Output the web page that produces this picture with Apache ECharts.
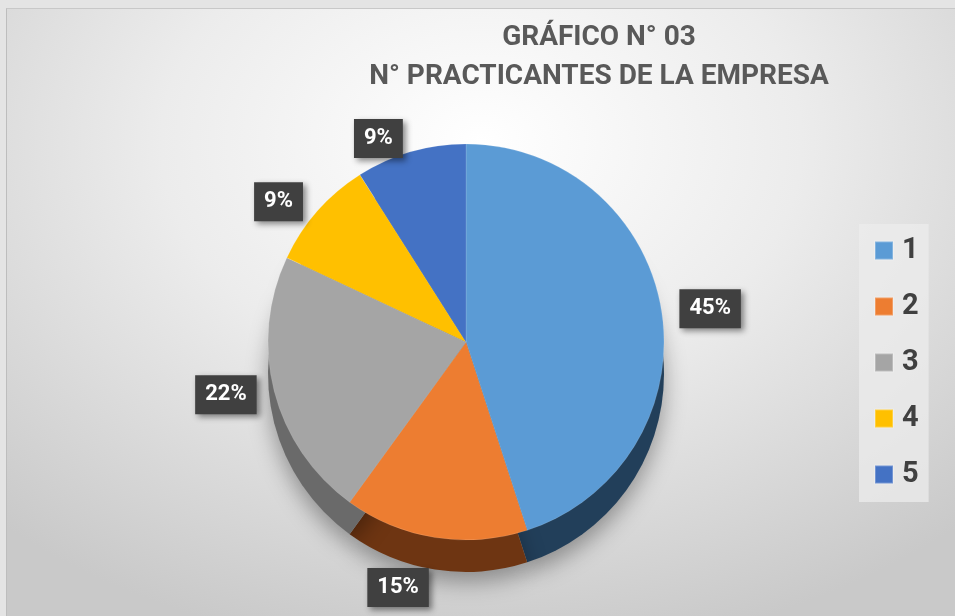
<!DOCTYPE html>
<html>
<head>
<meta charset="utf-8">
<script src="https://cdn.jsdelivr.net/npm/echarts@6/dist/echarts.min.js"></script>
<style>
  html, body { margin: 0; padding: 0; background: #e4e4e4; }
  #frame {
    position: absolute; left: 6px; top: 8px; width: 949px; height: 608px;
    border-left: 1px solid #bdbdbd; border-top: 1px solid #c8c8c8;
    background: radial-gradient(ellipse 75% 85% at 50% 22%, #ffffff 0%, #ececec 45%, #c9c9c9 100%);
  }
  #chart { position: absolute; left: 0; top: 0; width: 955px; height: 616px; }
</style>
</head>
<body>
<div id="frame"></div>
<div id="chart"></div>
<script>
const categories = ['1', '2', '3', '4', '5']
// porcentaje de practicantes
const values = [45, 15, 22, 9, 9]

const topColors = ['#5b9bd5', '#ed7d31', '#a5a5a5', '#ffc000', '#4472c4']
const sideColors = ['#223f5a', '#6e3512', '#6a6a6a', '#8a6a00', '#25406e']

const chart = echarts.init(document.getElementById('chart'))

chart.setOption({
  title: {
    text: 'GRÁFICO N° 03\nN° PRACTICANTES DE LA EMPRESA',
    left: 594,
    top: 13,
    textAlign: 'center',
    textStyle: {
      fontFamily: 'Roboto',
      fontWeight: 'bold',
      fontSize: 28,
      lineHeight: 39,
      color: '#595959',
    },
  },
  legend: {
    data: categories,
    orient: 'vertical',
    left: 859,
    top: 224,
    padding: [12, 10, 13, 15],
    backgroundColor: 'rgba(236,236,236,0.75)',
    itemWidth: 18,
    itemHeight: 18,
    itemGap: 27,
    icon: 'rect',
    selectedMode: false,
    textStyle: {
      fontFamily: 'Roboto',
      fontWeight: 'bold',
      fontSize: 29,
      color: '#404040',
      padding: [0, 0, 0, 4],
    },
  },
  series: [
    {
      name: 'top',
      type: 'pie',
      center: [466, 342],
      radius: 198,
      z: 3,
      startAngle: 90,
      clockwise: true,
      animation: false,
      itemStyle: {
        borderColor: 'rgba(255,255,255,0.25)',
        borderWidth: 0.5,
      },
      label: {
        show: true,
        position: 'outside',
        formatter: '{d}%',
        backgroundColor: '#404040',
        padding: [9, 10, 8, 10],
        color: '#ffffff',
        fontFamily: 'Roboto',
        fontWeight: 'bold',
        fontSize: 22,
        shadowBlur: 6,
        shadowOffsetX: 3,
        shadowOffsetY: 3,
        shadowColor: 'rgba(0,0,0,0.45)',
        distanceToLabelLine: 4,
      },
      labelLine: { show: false, length: 14, length2: 0 },
      labelLayout: function (params) {
        if (params.dataIndex === 1) {
          return { dy: 36 }
        }
        return {}
      },
      data: categories.map((name, i) => ({
        name: name,
        value: values[i],
        itemStyle: { color: topColors[i] },
      })),
    },
    {
      name: 'side',
      type: 'pie',
      center: [466, 374],
      radius: 198,
      z: 2,
      startAngle: 90,
      clockwise: true,
      animation: false,
      silent: true,
      label: { show: false },
      labelLine: { show: false },
      itemStyle: {
        shadowBlur: 22,
        shadowOffsetY: 10,
        shadowColor: 'rgba(0,0,0,0.35)',
      },
      data: categories.map((name, i) => ({
        name: name,
        value: values[i],
        itemStyle: { color: sideColors[i] },
      })),
    },
  ],
})
</script>
</body>
</html>
